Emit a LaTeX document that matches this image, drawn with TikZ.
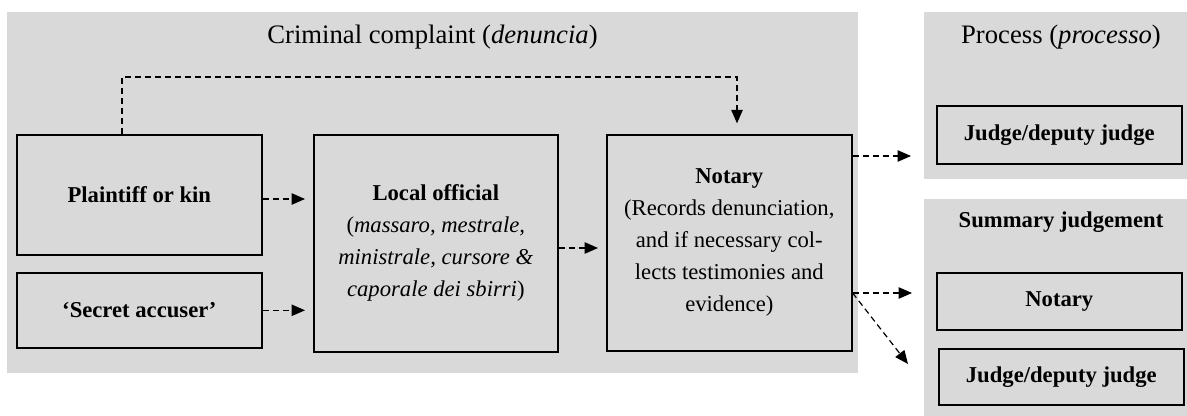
\documentclass[tikz,border=0pt]{standalone}
\usepackage{fontspec}
\setmainfont{Liberation Serif}
\usetikzlibrary{arrows.meta}

\begin{document}
\begin{tikzpicture}[x=0.75pt,y=0.75pt,yscale=-1,
  panel/.style={fill={rgb, 255:red, 217; green, 217; blue, 217 }},
  title/.style={font=\fontsize{20}{24}\selectfont},
  box/.style={draw, line width=1.2pt, inner sep=0pt, align=center, anchor=north west, minimum width=183.75pt, font=\fontsize{17}{24}\selectfont},
  dashto/.style={dash pattern=on 4.5pt off 3pt, line width=0.9pt, -{Triangle[length=10pt,width=8.5pt]}, shorten >=6pt}
]
\useasboundingbox (0,0) rectangle (1187,416);

%Shape: Rectangle [complaint panel]
\fill [panel] (7,12) rectangle (858,373);
%Shape: Rectangle [process panel]
\fill [panel] (924,12) rectangle (1187,179);
%Shape: Rectangle [summary panel]
\fill [panel] (924,199) rectangle (1187,416);

% Text Node
\node [title] (complaint) at (432.5,37) {Criminal complaint (\textit{denuncia})};
% Text Node
\node [title] (process) at (1061,37) {Process (\textit{processo})};
% Text Node
\node [font=\fontsize{17}{24}\selectfont\bfseries] (summary) at (1061,222) {Summary judgement};

%Shape: Rectangle
\node [box, minimum height=90pt] (plaintiff) at (16,134) {\textbf{Plaintiff or kin}};
%Shape: Rectangle
\node [box, minimum height=56.25pt] (accuser) at (16,272) {\textbf{‘Secret accuser’}};
%Shape: Rectangle
\node [box, minimum width=183pt, minimum height=162.75pt] (official) at (313,134) {\textbf{Local official}\\(\textit{massaro, mestrale,}\\\textit{ministrale, cursore \&}\\\textit{caporale dei sbirri})};
%Shape: Rectangle
\node [box, minimum height=162pt] (notary) at (606,134) {\textbf{Notary}\\(Records denunciation,\\and if necessary col-\\lects testimonies and\\evidence)};
%Shape: Rectangle
\node [box, minimum height=43.5pt] (judge) at (936,105) {\textbf{Judge/deputy judge}};
%Shape: Rectangle
\node [box, minimum height=42.75pt] (sumnotary) at (936,272) {\textbf{Notary}};
%Shape: Rectangle
\node [box, minimum height=42pt] (sumjudge) at (938,348) {\textbf{Judge/deputy judge}};

%Straight Lines
\coordinate (bend) at (737,77);
\draw [dashto, shorten >=8pt] (plaintiff.north -| 122,0) |- (bend) -- (notary.north -| bend);
\draw [dashto] (plaintiff.east |- 0,199) -- (official.west |- 0,199);
\draw [dashto] (accuser.east) -- (accuser.east -| official.west);
\draw [dashto] (official.east |- 0,248) -- (notary.west |- 0,248);
\draw [dashto, shorten >=18.75pt] (notary.east |- 0,156) -- (judge.west |- 0,156);
\draw [dashto, shorten >=18pt] (notary.east |- 0,293) -- (sumnotary.west |- 0,293);
\coordinate (tipdown) at (908,364);
\draw [dashto, shorten >=0pt] (notary.east |- 0,293) -- (tipdown);

\end{tikzpicture}
\end{document}
